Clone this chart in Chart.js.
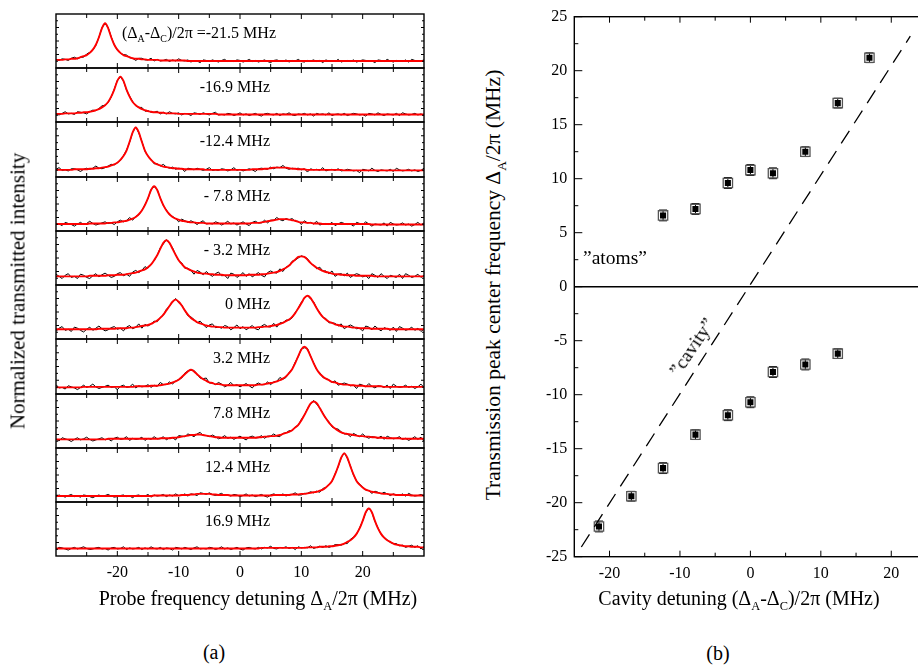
<!DOCTYPE html>
<html>
<head>
<meta charset="utf-8">
<script src="https://cdn.jsdelivr.net/npm/chart.js@4.4.0/dist/chart.umd.min.js"></script>
<style>
  html, body { margin: 0; padding: 0; background: #fff; }
  body { width: 918px; height: 665px; overflow: hidden; position: relative; font-family: "Liberation Serif", serif; color: #000; }
  .box { position: absolute; }
  .txt { position: absolute; white-space: nowrap; line-height: 1; }
  sub { font-size: 0.62em; vertical-align: -0.42em; line-height: 0; }
</style>
</head>
<body>
<script>
// ---------- data : panel (a) ----------
const probeX = [
  -30,-29.5,-29,-28.5,-28,-27.5,-27,-26.5,-26,-25.5,
  -25,-24.5,-24,-23.5,-23,-22.5,-22,-21.5,-21,-20.5,
  -20,-19.5,-19,-18.5,-18,-17.5,-17,-16.5,-16,-15.5,
  -15,-14.5,-14,-13.5,-13,-12.5,-12,-11.5,-11,-10.5,
  -10,-9.5,-9,-8.5,-8,-7.5,-7,-6.5,-6,-5.5,
  -5,-4.5,-4,-3.5,-3,-2.5,-2,-1.5,-1,-0.5,
  0,0.5,1,1.5,2,2.5,3,3.5,4,4.5,
  5,5.5,6,6.5,7,7.5,8,8.5,9,9.5,
  10,10.5,11,11.5,12,12.5,13,13.5,14,14.5,
  15,15.5,16,16.5,17,17.5,18,18.5,19,19.5,
  20,20.5,21,21.5,22,22.5,23,23.5,24,24.5,
  25,25.5,26,26.5,27,27.5,28,28.5,29,29.5,
  30
];
const probeTicks = [-20, -10, 0, 10, 20];
const panelLabels = [
  "(Δ<sub>A</sub>-Δ<sub>C</sub>)/2π =-21.5 MHz", "-16.9 MHz", "-12.4 MHz", "- 7.8 MHz", "- 3.2 MHz",
  "0 MHz", "3.2 MHz", "7.8 MHz", "12.4 MHz", "16.9 MHz"
];

// red fits, one per cavity detuning
const fit1 = [
  .15,.15,.15,.16,.16,.17,.17,.18,.20,.22, .24,.28,.34,.43,.57,.74,.83,.74,.57,.43,
  .34,.28,.24,.22,.20,.18,.17,.17,.16,.16, .15,.15,.15,.15,.14,.14,.14,.14,.14,.14,
  .14,.14,.14,.13,.13,.13,.13,.13,.13,.13, .13,.13,.13,.13,.13,.13,.13,.13,.13,.13,
  .13,.13,.13,.13,.13,.13,.13,.13,.13,.13, .13,.13,.13,.13,.13,.13,.13,.13,.13,.13,
  .13,.13,.13,.13,.13,.13,.13,.13,.13,.13, .13,.13,.13,.13,.13,.13,.13,.13,.13,.13,
  .13,.13,.13,.13,.13,.13,.13,.13,.13,.13, .13,.13,.13,.13,.13,.13,.13,.13,.13,.13, .13
];
const fit2 = [
  .15,.15,.15,.16,.16,.16,.16,.17,.17,.18, .18,.19,.20,.22,.24,.27,.31,.37,.47,.60,
  .76,.84,.76,.60,.47,.37,.31,.27,.24,.22, .20,.19,.18,.18,.17,.17,.16,.16,.16,.16,
  .15,.15,.15,.15,.15,.15,.15,.15,.15,.15, .15,.15,.15,.14,.14,.14,.14,.14,.14,.14,
  .14,.14,.14,.14,.14,.14,.14,.14,.14,.14, .14,.14,.14,.14,.14,.14,.14,.14,.14,.14,
  .14,.14,.14,.14,.14,.14,.14,.14,.14,.14, .14,.14,.14,.14,.14,.14,.14,.14,.14,.14,
  .14,.14,.14,.14,.14,.14,.14,.14,.14,.14, .14,.14,.14,.14,.14,.14,.14,.14,.14,.14, .14
];
const fit3 = [
  .13,.13,.13,.13,.13,.13,.14,.14,.14,.14, .14,.15,.15,.16,.16,.17,.18,.19,.21,.23,
  .26,.31,.38,.48,.64,.81,.90,.81,.64,.48, .38,.31,.26,.23,.21,.19,.18,.17,.16,.16,
  .15,.15,.14,.14,.14,.14,.14,.14,.14,.13, .13,.13,.13,.13,.13,.13,.13,.13,.13,.13,
  .13,.13,.13,.13,.14,.14,.14,.14,.15,.15, .16,.17,.17,.17,.17,.17,.16,.15,.15,.14,
  .14,.14,.13,.13,.13,.13,.13,.13,.13,.13, .13,.13,.13,.13,.12,.12,.12,.12,.12,.12,
  .12,.12,.12,.12,.12,.12,.12,.12,.12,.12, .12,.12,.12,.12,.12,.12,.12,.12,.12,.12, .12
];
const fit4 = [
  .13,.13,.13,.13,.13,.13,.13,.13,.13,.13, .13,.14,.14,.14,.14,.14,.14,.15,.15,.16,
  .16,.17,.18,.19,.21,.23,.26,.31,.38,.48, .61,.76,.83,.76,.61,.48,.38,.31,.26,.23,
  .21,.19,.18,.17,.16,.16,.15,.15,.15,.14, .14,.14,.14,.14,.14,.14,.14,.14,.14,.14,
  .14,.14,.14,.14,.15,.15,.15,.16,.17,.18, .19,.20,.21,.22,.22,.22,.21,.20,.19,.17,
  .16,.16,.15,.15,.14,.14,.14,.13,.13,.13, .13,.13,.13,.13,.13,.13,.13,.13,.13,.13,
  .13,.13,.13,.12,.12,.12,.12,.12,.12,.12, .12,.12,.12,.12,.12,.12,.12,.12,.12,.12, .12
];
const fit5 = [
  .16,.16,.16,.16,.16,.16,.16,.16,.16,.16, .16,.17,.17,.17,.17,.17,.17,.18,.18,.18,
  .19,.19,.19,.20,.21,.22,.23,.25,.27,.29, .33,.38,.46,.55,.67,.78,.83,.78,.67,.56,
  .46,.39,.33,.30,.27,.25,.23,.22,.21,.21, .20,.20,.19,.19,.19,.18,.18,.18,.18,.18,
  .18,.18,.18,.19,.19,.19,.19,.20,.20,.21, .22,.23,.24,.26,.29,.32,.36,.42,.47,.52,
  .53,.52,.47,.41,.36,.32,.29,.26,.24,.23, .21,.20,.20,.19,.19,.18,.18,.18,.17,.17,
  .17,.17,.17,.17,.16,.16,.16,.16,.16,.16, .16,.16,.16,.16,.16,.16,.16,.16,.16,.16, .16
];
const fit6 = [
  .18,.18,.18,.18,.18,.18,.18,.18,.18,.18, .18,.18,.18,.18,.19,.19,.19,.19,.19,.19,
  .20,.20,.20,.20,.21,.21,.22,.23,.24,.25, .26,.28,.31,.34,.39,.45,.53,.61,.69,.73,
  .69,.62,.53,.45,.39,.35,.31,.29,.27,.25, .24,.23,.23,.22,.22,.21,.21,.21,.21,.21,
  .21,.21,.21,.21,.21,.21,.22,.22,.23,.23, .24,.25,.26,.28,.30,.33,.36,.41,.48,.57,
  .66,.76,.80,.76,.67,.57,.48,.41,.36,.32, .30,.27,.26,.24,.23,.23,.22,.21,.21,.20,
  .20,.20,.20,.19,.19,.19,.19,.19,.19,.18, .18,.18,.18,.18,.18,.18,.18,.18,.18,.18, .18
];
const fit7 = [
  .12,.12,.12,.12,.12,.12,.12,.12,.12,.13, .13,.13,.13,.13,.13,.13,.13,.13,.13,.13,
  .13,.13,.13,.13,.13,.13,.14,.14,.14,.14, .14,.15,.15,.15,.16,.17,.18,.19,.21,.23,
  .26,.31,.36,.41,.44,.41,.36,.31,.27,.24, .21,.20,.18,.18,.17,.16,.16,.16,.16,.16,
  .16,.16,.16,.16,.16,.16,.17,.17,.18,.19, .20,.21,.23,.25,.28,.32,.38,.45,.56,.69,
  .81,.86,.81,.69,.56,.45,.37,.32,.28,.25, .22,.21,.19,.18,.17,.17,.16,.16,.15,.15,
  .15,.14,.14,.14,.14,.14,.14,.13,.13,.13, .13,.13,.13,.13,.13,.13,.13,.13,.13,.13, .13
];
const fit8 = [
  .16,.16,.16,.16,.16,.16,.16,.16,.16,.16, .16,.16,.16,.16,.16,.16,.16,.17,.17,.17,
  .17,.17,.17,.17,.17,.17,.17,.17,.17,.17, .17,.17,.17,.17,.18,.18,.18,.18,.19,.19,
  .20,.21,.22,.23,.24,.24,.25,.25,.24,.23, .22,.21,.20,.20,.19,.19,.19,.19,.19,.19,
  .19,.19,.19,.19,.19,.19,.20,.20,.21,.21, .22,.22,.23,.24,.26,.28,.30,.33,.38,.43,
  .51,.61,.72,.82,.86,.83,.74,.64,.55,.47, .41,.36,.32,.29,.27,.26,.25,.24,.23,.22,
  .22,.21,.21,.20,.20,.19,.19,.19,.18,.18, .18,.18,.18,.17,.17,.17,.17,.17,.17,.17, .17
];
const fit9 = [
  .11,.11,.11,.11,.11,.11,.11,.11,.11,.11, .11,.11,.11,.11,.11,.11,.11,.11,.11,.11,
  .11,.11,.11,.11,.11,.11,.11,.11,.11,.11, .11,.11,.12,.12,.12,.12,.12,.12,.12,.12,
  .12,.13,.13,.13,.14,.14,.15,.15,.15,.15, .15,.14,.14,.13,.13,.13,.13,.12,.12,.12,
  .12,.12,.12,.12,.12,.12,.12,.12,.12,.12, .12,.13,.13,.13,.13,.13,.13,.14,.14,.14,
  .15,.15,.16,.17,.18,.19,.21,.23,.27,.32, .39,.51,.66,.82,.90,.82,.66,.51,.39,.32,
  .27,.23,.21,.19,.18,.17,.16,.15,.15,.14, .14,.13,.13,.13,.13,.13,.12,.12,.12,.12, .12
];
const fit10 = [
  .14,.14,.14,.14,.14,.14,.14,.14,.14,.14, .14,.14,.14,.14,.14,.14,.14,.14,.14,.14,
  .14,.14,.14,.14,.14,.14,.14,.14,.14,.14, .14,.14,.14,.14,.14,.14,.14,.14,.14,.14,
  .14,.14,.14,.14,.14,.14,.14,.14,.14,.14, .14,.14,.14,.14,.14,.14,.14,.14,.14,.14,
  .14,.14,.14,.14,.14,.14,.14,.15,.15,.15, .15,.15,.15,.15,.15,.15,.15,.15,.15,.15,
  .15,.15,.16,.16,.16,.16,.17,.17,.17,.18, .18,.19,.20,.21,.23,.26,.29,.34,.41,.51,
  .65,.81,.88,.81,.65,.51,.41,.34,.29,.26, .23,.21,.20,.19,.18,.18,.17,.17,.17,.16, .16
];

// black measured traces
const raw1 = [
  .16,.14,.17,.16,.14,.18,.20,.17,.20,.20, .26,.29,.33,.42,.57,.75,.82,.75,.58,.43,
  .33,.27,.25,.24,.19,.18,.14,.18,.18,.15, .15,.18,.13,.16,.13,.14,.16,.12,.15,.13,
  .17,.14,.13,.15,.11,.14,.13,.10,.15,.14, .12,.15,.13,.11,.14,.16,.12,.13,.12,.15,
  .14,.11,.13,.16,.12,.14,.11,.13,.15,.12, .10,.14,.15,.13,.12,.15,.11,.14,.13,.16,
  .12,.11,.14,.13,.15,.12,.14,.10,.15,.13, .14,.12,.16,.11,.13,.14,.12,.15,.11,.13,
  .15,.14,.12,.13,.10,.15,.14,.12,.16,.13, .11,.14,.13,.12,.15,.11,.16,.14,.12,.13, .15
];
const raw2 = [
  .15,.13,.16,.19,.15,.16,.14,.19,.18,.17, .15,.19,.22,.21,.25,.30,.31,.36,.46,.61,
  .77,.83,.76,.59,.48,.38,.30,.27,.27,.20, .21,.18,.18,.20,.15,.18,.15,.19,.16,.15,
  .17,.13,.16,.15,.12,.17,.16,.14,.17,.15, .13,.16,.18,.13,.14,.13,.16,.15,.12,.14,
  .17,.13,.15,.12,.14,.16,.13,.11,.15,.16, .14,.13,.16,.12,.15,.14,.17,.13,.12,.15,
  .14,.16,.13,.15,.11,.16,.14,.15,.13,.17, .12,.14,.15,.13,.16,.12,.14,.16,.15,.13,
  .14,.11,.16,.15,.13,.17,.14,.12,.15,.14, .13,.16,.12,.17,.15,.13,.14,.16,.13,.15, .12
];
const raw3 = [
  .14,.17,.12,.13,.11,.15,.15,.13,.10,.14, .16,.14,.16,.20,.16,.15,.17,.20,.23,.22,
  .26,.30,.39,.49,.63,.81,.91,.80,.65,.47, .38,.32,.24,.24,.20,.23,.18,.16,.18,.14,
  .16,.15,.10,.16,.15,.13,.16,.14,.12,.14, .17,.12,.13,.12,.15,.14,.11,.13,.17,.12,
  .14,.11,.13,.15,.13,.10,.15,.16,.15,.14, .18,.15,.18,.17,.21,.16,.14,.16,.15,.16,
  .13,.15,.09,.15,.13,.14,.12,.17,.11,.13, .14,.12,.15,.11,.12,.14,.13,.11,.12,.08,
  .14,.13,.11,.16,.12,.10,.13,.12,.11,.14, .10,.16,.13,.11,.12,.14,.11,.13,.10,.12, .16
];
const raw4 = [
  .12,.13,.10,.16,.14,.12,.09,.13,.16,.12, .14,.18,.14,.11,.13,.15,.17,.14,.15,.12,
  .17,.20,.17,.19,.25,.20,.27,.30,.38,.49, .60,.77,.82,.77,.61,.47,.39,.30,.27,.23,
  .17,.22,.19,.16,.19,.16,.12,.16,.19,.13, .14,.13,.17,.15,.11,.14,.18,.13,.15,.11,
  .14,.17,.13,.10,.16,.18,.15,.15,.20,.15, .20,.20,.25,.21,.19,.23,.21,.23,.18,.18,
  .12,.19,.15,.16,.13,.18,.11,.13,.14,.12, .16,.10,.13,.16,.14,.12,.13,.09,.16,.14,
  .12,.17,.13,.09,.13,.12,.11,.15,.09,.16, .13,.11,.12,.15,.11,.13,.09,.12,.16,.11, .15
];
const raw5 = [
  .20,.16,.12,.18,.21,.14,.16,.12,.20,.18, .14,.12,.17,.21,.15,.19,.22,.18,.14,.16,
  .21,.23,.17,.20,.16,.24,.27,.23,.27,.34, .31,.39,.45,.55,.69,.76,.84,.77,.69,.56,
  .45,.41,.31,.31,.27,.20,.27,.24,.19,.25, .20,.16,.21,.24,.17,.18,.12,.22,.20,.14,
  .18,.23,.16,.21,.15,.19,.23,.18,.15,.23, .26,.23,.22,.30,.25,.33,.36,.44,.46,.50,
  .54,.52,.49,.40,.37,.30,.33,.26,.26,.21, .26,.16,.20,.21,.17,.22,.14,.18,.21,.19,
  .15,.17,.12,.21,.18,.14,.21,.16,.12,.18, .16,.14,.20,.12,.21,.18,.14,.16,.20,.14, .18
];
const raw6 = [
  .14,.20,.23,.16,.18,.14,.22,.20,.16,.13, .18,.22,.16,.20,.24,.19,.15,.17,.21,.23,
  .18,.20,.15,.22,.25,.19,.22,.28,.20,.27, .24,.28,.33,.32,.40,.44,.55,.61,.68,.75,
  .67,.63,.53,.43,.41,.36,.30,.33,.27,.21, .26,.28,.21,.22,.20,.25,.23,.17,.21,.26,
  .19,.23,.17,.21,.25,.19,.17,.24,.27,.23, .22,.29,.22,.30,.30,.35,.35,.39,.49,.57,
  .68,.75,.81,.74,.69,.57,.49,.40,.38,.30, .30,.29,.24,.28,.19,.23,.26,.23,.19,.20,
  .15,.24,.22,.17,.24,.19,.15,.21,.19,.16, .22,.14,.23,.20,.16,.18,.22,.16,.20,.14, .18
];
const raw7 = [
  .17,.11,.12,.09,.15,.13,.11,.08,.12,.16, .12,.14,.18,.13,.10,.12,.14,.16,.12,.13,
  .08,.14,.16,.12,.13,.18,.11,.15,.13,.14, .17,.12,.16,.14,.21,.17,.17,.22,.18,.24,
  .26,.29,.38,.42,.43,.43,.36,.29,.28,.29, .20,.20,.17,.21,.18,.13,.16,.21,.15,.17,
  .13,.16,.19,.15,.11,.17,.20,.17,.17,.22, .17,.22,.23,.30,.27,.30,.39,.45,.58,.68,
  .82,.84,.83,.69,.57,.44,.39,.30,.28,.26, .21,.24,.16,.18,.20,.18,.15,.16,.10,.18,
  .16,.13,.19,.14,.11,.15,.14,.12,.16,.10, .18,.14,.12,.13,.16,.12,.14,.10,.13,.18, .12
];
const raw8 = [
  .16,.13,.19,.17,.15,.12,.16,.19,.15,.17, .20,.16,.13,.15,.17,.19,.15,.17,.13,.18,
  .20,.16,.17,.21,.14,.18,.16,.17,.20,.14, .18,.16,.21,.17,.17,.21,.15,.19,.19,.15,
  .23,.22,.21,.26,.24,.21,.26,.29,.23,.23, .21,.24,.21,.17,.19,.23,.18,.20,.16,.19,
  .22,.18,.15,.20,.22,.19,.19,.23,.18,.22, .22,.26,.22,.21,.27,.28,.32,.32,.39,.42,
  .53,.61,.73,.81,.88,.81,.74,.65,.54,.49, .39,.36,.35,.30,.26,.26,.21,.27,.24,.21,
  .26,.21,.18,.21,.20,.18,.22,.16,.22,.19, .17,.18,.21,.16,.18,.14,.17,.21,.16,.20, .13
];
const raw9 = [
  .10,.13,.11,.09,.12,.14,.10,.11,.09,.13, .12,.10,.08,.11,.13,.10,.12,.14,.11,.09,
  .10,.12,.13,.10,.11,.08,.12,.13,.10,.11, .14,.09,.13,.11,.12,.14,.10,.13,.11,.15,
  .12,.12,.15,.11,.15,.14,.12,.17,.16,.14, .17,.14,.12,.14,.16,.12,.13,.11,.14,.13,
  .10,.12,.15,.11,.13,.10,.12,.14,.11,.09, .13,.15,.13,.12,.15,.11,.14,.14,.17,.13,
  .13,.16,.16,.19,.17,.20,.18,.25,.27,.33, .38,.52,.65,.82,.91,.81,.67,.50,.39,.33,
  .28,.22,.21,.16,.20,.18,.15,.18,.15,.12, .15,.13,.12,.15,.11,.16,.13,.11,.12,.14, .11
];
const raw10 = [
  .12,.16,.15,.13,.11,.14,.16,.13,.15,.17, .14,.12,.13,.15,.16,.13,.14,.11,.15,.16,
  .13,.14,.17,.12,.15,.13,.14,.16,.12,.15, .13,.17,.14,.13,.16,.12,.15,.14,.11,.16,
  .15,.13,.16,.14,.12,.15,.17,.13,.14,.13, .16,.15,.12,.14,.17,.13,.15,.12,.14,.16,
  .13,.11,.15,.16,.14,.13,.16,.13,.16,.15, .18,.14,.13,.16,.15,.17,.14,.16,.12,.17,
  .15,.16,.15,.19,.14,.16,.18,.16,.19,.16, .18,.21,.21,.20,.23,.23,.31,.35,.40,.52,
  .65,.80,.89,.81,.64,.52,.40,.35,.30,.25, .23,.23,.19,.20,.16,.18,.20,.16,.19,.13, .17
];

// ---------- data : panel (b) ----------
const cavityTicks = [-20, -10, 0, 10, 20];
const peakTicks = [-25, -20, -15, -10, -5, 0, 5, 10, 15, 20, 25];
const atomsDetuning = [-12.4, -7.8, -3.2, 0, 3.2, 7.8, 12.4, 16.9];
const atomsPeak = [6.6, 7.2, 9.6, 10.8, 10.5, 12.5, 17.0, 21.2];
const atomsErr = [0.5, 0.5, 0.5, 0.5, 0.5, 0.45, 0.45, 0.45];
const cavityDetuning = [-21.5, -16.9, -12.4, -7.8, -3.2, 0, 3.2, 7.8, 12.4];
const cavityPeak = [-22.2, -19.4, -16.8, -13.7, -11.9, -10.7, -7.9, -7.2, -6.2];
const cavityErr = [0.5, 0.45, 0.5, 0.45, 0.5, 0.5, 0.5, 0.5, 0.45];
const bareCavityX = [-24, 22.7];
const bareCavityY = [-24.1, 23.2];

const fits = [fit1, fit2, fit3, fit4, fit5, fit6, fit7, fit8, fit9, fit10];
const raws = [raw1, raw2, raw3, raw4, raw5, raw6, raw7, raw8, raw9, raw10];

Chart.defaults.font.family = "'Liberation Serif', serif";
Chart.defaults.font.size = 16;
Chart.defaults.color = "#000";

// frame with inward ticks (and optional tick labels), drawn from the scales
const frameTicks = {
  id: "frameTicks",
  afterDatasetsDraw(chart, args, o) {
    const { ctx, chartArea: a, scales: { x, y } } = chart;
    ctx.save();
    ctx.strokeStyle = "#000";
    ctx.lineWidth = 1;
    ctx.beginPath();
    const xt = (vals, len) => vals.forEach(v => {
      const px = x.getPixelForValue(v);
      ctx.moveTo(px, a.bottom); ctx.lineTo(px, a.bottom - len);
      ctx.moveTo(px, a.top); ctx.lineTo(px, a.top + len);
    });
    const yt = (vals, len) => vals.forEach(v => {
      const py = y.getPixelForValue(v);
      ctx.moveTo(a.left, py); ctx.lineTo(a.left + len, py);
      ctx.moveTo(a.right, py); ctx.lineTo(a.right - len, py);
    });
    xt(o.xMajor, o.xMajorLen); xt(o.xMinor, o.xMinorLen);
    yt(o.yMajor, o.yMajorLen); yt(o.yMinor, o.yMinorLen);
    ctx.stroke();
    ctx.lineWidth = 1.4;
    ctx.strokeRect(a.left, a.top, a.right - a.left, a.bottom - a.top);
    if (o.labels) {
      ctx.fillStyle = "#000";
      ctx.font = "16px 'Liberation Serif', serif";
      ctx.textAlign = "center";
      ctx.textBaseline = "middle";
      o.labels.forEach(v => ctx.fillText(String(v), x.getPixelForValue(v), a.bottom + o.labelOffset));
    }
    ctx.restore();
  }
};

const errorBars = {
  id: "errorBars",
  beforeDatasetsDraw(chart) {
    const { ctx, scales: { x, y } } = chart;
    ctx.save();
    ctx.strokeStyle = "#000";
    ctx.lineWidth = 1;
    chart.data.datasets.forEach(ds => {
      if (!ds.yErr) return;
      ds.data.forEach((p, k) => {
        const px = x.getPixelForValue(p.x);
        const lo = y.getPixelForValue(p.y - ds.yErr[k]);
        const hi = y.getPixelForValue(p.y + ds.yErr[k]);
        ctx.beginPath();
        ctx.moveTo(px, lo); ctx.lineTo(px, hi);
        ctx.moveTo(px - 4, lo); ctx.lineTo(px + 4, lo);
        ctx.moveTo(px - 4, hi); ctx.lineTo(px + 4, hi);
        ctx.stroke();
      });
    });
    ctx.restore();
  }
};

function addBox(left, top, w, h) {
  const c = document.createElement("canvas");
  c.className = "box";
  c.style.left = left + "px"; c.style.top = top + "px";
  c.style.width = w + "px"; c.style.height = h + "px";
  c.width = w; c.height = h;
  document.body.appendChild(c);
  return c;
}

function addText(html, css) {
  const d = document.createElement("div");
  d.className = "txt";
  d.innerHTML = html;
  Object.assign(d.style, css);
  document.body.appendChild(d);
  return d;
}

// ---------- panel (a) ----------
const panelTops = [14, 68, 122, 177, 231, 285, 339, 394, 448, 502, 556];

fits.forEach((fit, i) => {
  const h = panelTops[i + 1] - panelTops[i];
  const last = i === fits.length - 1;
  const canvas = addBox(52, panelTops[i] - 3, 376, h + 3 + (last ? 40 : 3));
  new Chart(canvas, {
    type: "line",
    data: {
      datasets: [
        {
          data: probeX.map((x, k) => ({ x, y: fit[k] })),
          borderColor: "#ff0000", borderWidth: 1.9, pointRadius: 0,
          cubicInterpolationMode: "monotone", order: 0
        },
        {
          data: probeX.map((x, k) => ({ x, y: raws[i][k] })),
          borderColor: "#000", borderWidth: 1, pointRadius: 0, tension: 0, order: 1
        }
      ]
    },
    options: {
      responsive: false, animation: false, events: [],
      layout: { autoPadding: false, padding: { left: 4, right: 4, top: 3, bottom: last ? 40 : 3 } },
      plugins: {
        legend: { display: false }, tooltip: { enabled: false },
        frameTicks: {
          xMajor: [-20, -10, 0, 10, 20], xMajorLen: 5,
          xMinor: [-25, -15, -5, 5, 15, 25], xMinorLen: 4,
          yMajor: [0.25, 0.5, 0.75], yMajorLen: 3,
          yMinor: [0.125, 0.375, 0.625, 0.875], yMinorLen: 2,
          labels: last ? probeTicks : null, labelOffset: 17
        }
      },
      scales: {
        x: { type: "linear", min: -30, max: 30, display: false },
        y: { min: 0, max: 1, display: false }
      }
    },
    plugins: [frameTicks]
  });

  const first = i === 0;
  addText(panelLabels[i], {
    left: "0px", width: (first ? 276 : 270) + "px", textAlign: "right",
    top: (panelTops[i] + 11) + "px", fontSize: "16px"
  });
});

addText("Normalized transmitted intensity", { left: "18px", top: "291px", fontSize: "21px", transform: "translate(-50%,-50%) rotate(-90deg)" });
addText("Probe frequency detuning Δ<sub>A</sub>/2π (MHz)", { left: "258px", top: "598px", fontSize: "20px", transform: "translate(-50%,-50%)" });
addText("(a)", { left: "214px", top: "652px", fontSize: "20px", transform: "translate(-50%,-50%)" });

// ---------- panel (b) ----------
const right = addBox(530, 0, 420, 620);
new Chart(right, {
  type: "scatter",
  data: {
    datasets: [
      {
        data: [{ x: -25, y: 0 }, { x: 25, y: 0 }], showLine: true,
        borderColor: "#000", borderWidth: 1.4, pointRadius: 0
      },
      {
        data: bareCavityX.map((x, k) => ({ x, y: bareCavityY[k] })), showLine: true,
        borderColor: "#000", borderWidth: 1.3, borderDash: [15, 9], pointRadius: 0
      },
      {
        data: atomsDetuning.map((x, k) => ({ x, y: atomsPeak[k] })), yErr: atomsErr,
        pointStyle: "rect", pointRadius: 6.6, backgroundColor: "rgba(0,0,0,0)",
        borderColor: "#555", borderWidth: 1.3
      },
      {
        data: cavityDetuning.map((x, k) => ({ x, y: cavityPeak[k] })), yErr: cavityErr,
        pointStyle: "rect", pointRadius: 6.6, backgroundColor: "rgba(0,0,0,0)",
        borderColor: "#555", borderWidth: 1.3
      },
      {
        data: atomsDetuning.map((x, k) => ({ x, y: atomsPeak[k] })),
        pointStyle: "rect", pointRadius: 4.3, backgroundColor: "#000", borderWidth: 0
      },
      {
        data: cavityDetuning.map((x, k) => ({ x, y: cavityPeak[k] })),
        pointStyle: "rect", pointRadius: 4.3, backgroundColor: "#000", borderWidth: 0
      }
    ]
  },
  options: {
    responsive: false, animation: false, events: [],
    layout: { autoPadding: false, padding: { left: 0, right: 23.5, top: 16.7, bottom: 0 } },
    plugins: {
      legend: { display: false }, tooltip: { enabled: false },
      frameTicks: {
        xMajor: [-20, -10, 0, 10, 20], xMajorLen: 6,
        xMinor: [-15, -5, 5, 15], xMinorLen: 4,
        yMajor: peakTicks, yMajorLen: 8,
        yMinor: [-22.5, -17.5, -12.5, -7.5, -2.5, 2.5, 7.5, 12.5, 17.5, 22.5], yMinorLen: 4
      }
    },
    scales: {
      x: {
        type: "linear", min: -25, max: 25,
        grid: { display: false, drawTicks: false }, border: { display: false },
        afterFit: s => { s.height = 63.3; },
        afterBuildTicks: s => { s.ticks = cavityTicks.map(v => ({ value: v })); },
        ticks: { padding: 7 }
      },
      y: {
        type: "linear", min: -25, max: 25,
        grid: { display: false, drawTicks: false }, border: { display: false },
        afterFit: s => { s.width = 44.3; },
        afterBuildTicks: s => { s.ticks = peakTicks.map(v => ({ value: v })); },
        ticks: { padding: 7 }
      }
    }
  },
  plugins: [errorBars, frameTicks]
});

addText("Transmission peak center frequency Δ<sub>A</sub>/2π (MHz)", { left: "494px", top: "285px", fontSize: "21.5px", transform: "translate(-50%,-50%) rotate(-90deg)" });
addText("Cavity detuning (Δ<sub>A</sub>-Δ<sub>C</sub>)/2π (MHz)", { left: "739px", top: "598px", fontSize: "20px", transform: "translate(-50%,-50%)" });
addText("(b)", { left: "718px", top: "653px", fontSize: "20px", transform: "translate(-50%,-50%)" });
addText("”atoms”", { left: "583px", top: "248px", fontSize: "19.5px" });
addText("”cavity”", { left: "692px", top: "347px", fontSize: "19.5px", transform: "translate(-50%,-50%) rotate(-56deg)" });
</script>
</body>
</html>
